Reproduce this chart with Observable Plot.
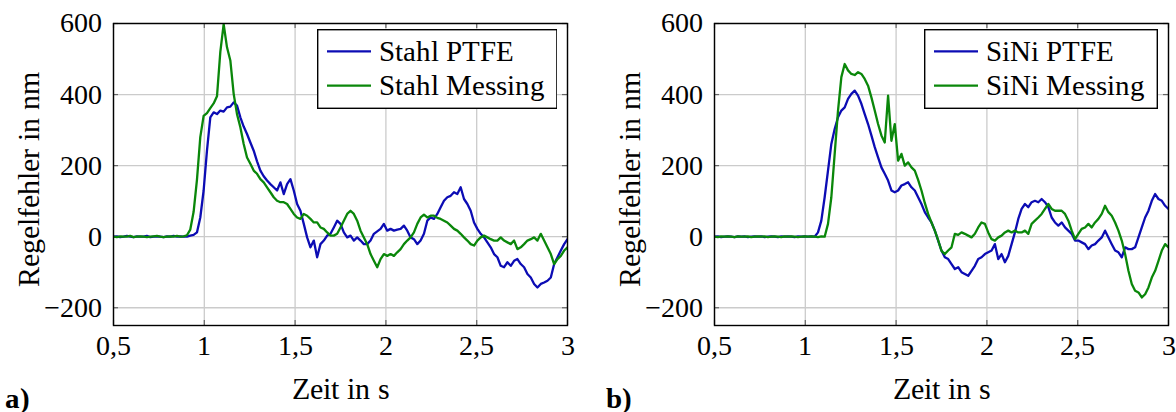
<!DOCTYPE html>
<html><head><meta charset="utf-8">
<script src="https://cdn.jsdelivr.net/npm/d3@7"></script>
<script src="https://cdn.jsdelivr.net/npm/@observablehq/plot@0.6"></script>
<style>
@font-face{font-family:"RefSerif";src:local("Liberation Serif"),local("LiberationSerif"),local("LiberationSerif-Regular"),local("Tinos"),local("FreeSerif");font-weight:400;}
@font-face{font-family:"RefSerif";src:local("Liberation Serif Bold"),local("LiberationSerif-Bold"),local("Tinos Bold"),local("FreeSerif Bold");font-weight:700;}
html,body{margin:0;background:#fff;font-family:"RefSerif","Liberation Serif","Tinos","FreeSerif",serif;}
#wrap{position:relative;width:1176px;height:412px;background:#fff;}
.panel{position:absolute;top:0;}
.legend{position:absolute;}
</style>
</head><body>
<div id="wrap"></div>
<script>
// ---- data ----
const tStart = 0.5, tEnd = 3, nSamples = 137;
const xTicks = [0.5, 1, 1.5, 2, 2.5, 3];
const yTicks = [-200, 0, 200, 400, 600];
const panelLabels = ["a)", "b)"];
const seriesNamesA = ["Stahl PTFE", "Stahl Messing"];
const seriesNamesB = ["SiNi PTFE", "SiNi Messing"];
const xLabel = "Zeit in s";
const yLabel = "Regelfehler in nm";

const stahlPTFE = [0,1,-1,0,2,0,-1,1,0,0,2,-1,0,1,0,-1,1,0,2,0,1,0,0,3,
 5,12,54,130,242,336,350,345,355,352,
 364,366,378,369,336,310,289,265,242,212,
 186,170,158,148,139,130,153,120,148,162,
 130,92,73,36,-2,-30,-11,-58,-21,-11,
 3,8,26,45,36,12,-2,3,-11,-2,
 -11,-21,-21,-11,8,15,22,36,17,22,
 17,20,22,31,17,-2,-7,-21,-11,8,
 45,54,50,64,83,101,111,115,125,120,
 139,106,92,73,40,22,8,-2,-16,-30,
 -49,-58,-82,-86,-72,-82,-68,-63,-77,-86,
 -105,-115,-133,-143,-133,-129,-124,-115,-77,-58,
 -39,-21,-7];

const stahlMessing = [0,-1,1,0,0,2,-1,0,1,0,-1,0,1,2,0,-1,0,1,0,2,0,1,
 4,20,70,160,280,340,348,362,375,395,
 520,598,533,496,402,345,308,261,223,205,
 186,177,162,153,139,125,111,101,97,97,
 92,78,64,54,50,64,59,50,40,40,
 26,22,12,3,3,8,26,45,64,73,
 64,45,17,-2,-21,-49,-68,-86,-63,-49,
 -54,-49,-54,-44,-35,-21,-11,-2,12,36,
 54,62,54,59,59,53,50,45,40,31,
 22,17,8,-2,-11,-21,-25,-11,-2,3,
 -2,-7,-11,-11,-2,-11,-16,-21,-11,-35,
 -30,-21,-11,-7,-2,-11,8,-11,-30,-49,
 -77,-63,-54,-39,-30];

const siniPTFE = [0,1,-1,0,1,0,-1,1,0,1,-1,0,1,0,1,-1,0,1,0,-1,1,0,1,0,-1,1,0,1,0,1,0,
 12,45,111,186,261,303,336,355,364,388,
 402,411,397,374,345,317,285,252,223,195,
 177,158,130,125,130,144,148,153,139,130,
 111,92,69,54,40,17,-11,-39,-58,-63,
 -77,-91,-86,-100,-105,-110,-96,-82,-63,-58,
 -49,-44,-39,-21,-63,-49,-72,-54,-21,12,
 50,78,92,83,97,101,97,106,97,83,
 54,40,31,40,26,17,8,-11,-11,-16,
 -21,-35,-25,-21,-11,-2,17,-2,-21,-39,
 -44,-58,-30,-35,-35,-30,-2,26,54,73,
 101,120,106,101,87,78];

const siniMessing = [0,-1,1,0,1,0,-1,1,0,0,1,-1,0,1,0,1,-1,0,1,0,-1,1,0,1,0,-1,0,1,0,1,0,-1,1,0,
 36,111,233,355,449,486,468,458,455,463,
 458,444,425,392,355,317,285,265,397,270,
 317,214,233,200,209,195,186,160,130,95,
 64,40,17,-10,-40,-49,-39,-30,8,5,
 12,8,3,-2,8,26,40,36,12,-7,
 -11,-2,3,12,17,12,17,12,12,17,
 8,36,45,54,64,78,92,78,73,73,
 73,64,45,17,-7,8,22,26,36,26,
 40,50,64,87,69,59,40,17,-11,-49,
 -96,-133,-152,-157,-171,-162,-143,-115,-96,-68,
 -39,-21,-30];

const colors = ["#0c0cb4", "#0a870a"];

// ---- layout ----
const W = 575, H = 412, mL = 113, mR = 8, mT = 23, mB = 87;
const plotW = W - mL - mR, plotH = H - mT - mB;
const tickLen = 5;
const FONT = "RefSerif, 'Liberation Serif', Tinos, FreeSerif, serif";
const times = d3.range(nSamples).map(i => tStart + i * (tEnd - tStart) / (nSamples - 1));

const fmtX = d => String(d).replace(".", ",");
const fmtY = d => d < 0 ? "\u2212" + Math.abs(d) : String(d);

function makePanel(names, s1, s2, label) {
  const data = [];
  times.forEach((t, i) => data.push({t, v: s1[i], s: names[0]}));
  times.forEach((t, i) => data.push({t, v: s2[i], s: names[1]}));
  return Plot.plot({
    width: W, height: H,
    marginLeft: mL, marginRight: mR, marginTop: mT, marginBottom: mB,
    x: {domain: [tStart, tEnd]},
    y: {domain: [-250, 600]},
    color: {domain: names, range: colors},
    style: {fontFamily: FONT, fontSize: "28px", color: "#000", background: "transparent", overflow: "visible"},
    marks: [
      Plot.gridX(xTicks, {stroke: "#cbcbcb", strokeOpacity: 1, strokeWidth: 1.3}),
      Plot.gridY(yTicks, {stroke: "#cbcbcb", strokeOpacity: 1, strokeWidth: 1.3}),
      Plot.tickX(xTicks, {x: d => d, stroke: "#666", strokeWidth: 1.2, insetTop: plotH - tickLen}),
      Plot.tickX(xTicks, {x: d => d, stroke: "#666", strokeWidth: 1.2, insetBottom: plotH - tickLen}),
      Plot.tickY(yTicks, {y: d => d, stroke: "#666", strokeWidth: 1.2, insetRight: plotW - tickLen}),
      Plot.tickY(yTicks, {y: d => d, stroke: "#666", strokeWidth: 1.2, insetLeft: plotW - tickLen}),
      Plot.axisX(xTicks, {anchor: "bottom", tickSize: 0, tickPadding: 10, tickFormat: fmtX, label: null, fontSize: 28, fontFamily: FONT}),
      Plot.axisY(yTicks, {anchor: "left", tickSize: 0, tickPadding: 12, tickFormat: fmtY, label: null, fontSize: 28, fontFamily: FONT}),
      Plot.line(data, {x: "t", y: "v", z: "s", stroke: "s", strokeWidth: 2.3, clip: true}),
      Plot.frame({stroke: "#000", strokeWidth: 1.4}),
      Plot.text([yLabel], {text: d => d, frameAnchor: "left", rotate: -90, dx: -84, dy: 5, lineAnchor: "middle", textAnchor: "middle", fontSize: 29.5, fontFamily: FONT}),
      Plot.text([xLabel], {text: d => d, frameAnchor: "bottom", dy: 64, lineAnchor: "middle", fontSize: 29.5, fontFamily: FONT}),
      Plot.text([label], {text: d => d, frameAnchor: "bottom-left", dx: 4 - mL, dy: 73, textAnchor: "start", lineAnchor: "middle", fontWeight: "bold", fontSize: 29, fontFamily: FONT})
    ]
  });
}

function makeLegend(names, box) {
  const svg = d3.create("svg").attr("class", "legend")
    .attr("width", box.w).attr("height", box.h)
    .style("left", box.x + "px").style("top", box.y + "px");
  svg.append("rect").attr("x", 0.7).attr("y", 0.7).attr("width", box.w - 1.4).attr("height", box.h - 1.4)
    .attr("fill", "#fff").attr("stroke", "#000").attr("stroke-width", 1.4);
  names.forEach((n, i) => {
    const cy = 22.4 + i * 34.3;
    svg.append("line").attr("x1", 10).attr("x2", 54).attr("y1", cy).attr("y2", cy)
      .attr("stroke", colors[i]).attr("stroke-width", 2.3);
    svg.append("text").attr("x", 61.5).attr("y", cy + 9.5).text(n)
      .style("font-family", FONT).style("font-size", "29px").attr("fill", "#000");
  });
  return svg.node();
}

const panels = [
  {names: seriesNamesA, s1: stahlPTFE, s2: stahlMessing, left: 0, legend: {x: 316.7, y: 29.3, w: 240.6, h: 80}},
  {names: seriesNamesB, s1: siniPTFE, s2: siniMessing, left: 601, legend: {x: 323.3, y: 29.3, w: 234, h: 80}}
];

function draw() {
  const wrap = document.getElementById("wrap");
  wrap.innerHTML = "";
  panels.forEach((p, k) => {
    const div = document.createElement("div");
    div.className = "panel";
    div.style.left = p.left + "px";
    div.style.width = W + "px";
    div.style.height = H + "px";
    div.appendChild(makePanel(p.names, p.s1, p.s2, panelLabels[k]));
    div.appendChild(makeLegend(p.names, p.legend));
    wrap.appendChild(div);
  });
}
draw();
if (document.fonts && document.fonts.load) {
  Promise.all([document.fonts.load("28px RefSerif"), document.fonts.load("bold 28px RefSerif")])
    .then(draw).catch(() => {});
}
</script>
</body></html>
